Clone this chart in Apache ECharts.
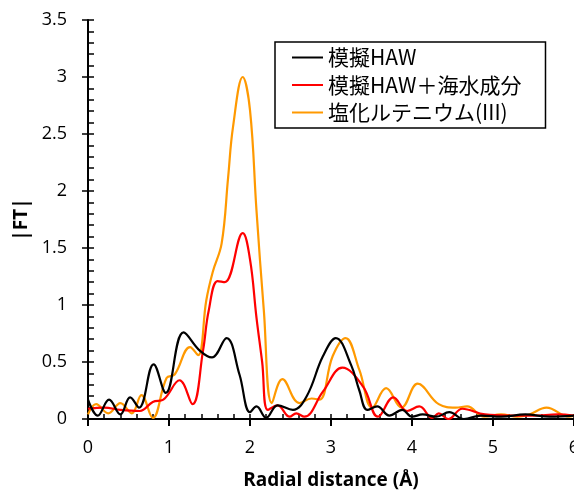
<!DOCTYPE html>
<html>
<head>
<meta charset="utf-8">
<script src="https://cdn.jsdelivr.net/npm/echarts@6/dist/echarts.min.js"></script>
<style>html,body{margin:0;padding:0;background:#fff;}#c{width:574px;height:490px;}</style>
</head>
<body>
<div id="c"></div>
<script>
const seriesNames = ['模擬HAW', '模擬HAW＋海水成分', '塩化ルテニウム(III)'];
const xTicks = [0, 1, 2, 3, 4, 5, 6];
const yTicks = [0, 0.5, 1, 1.5, 2, 2.5, 3, 3.5];

const blackX = [0, 0.12, 0.26, 0.4, 0.52, 0.63, 0.81, 0.96, 1.18, 1.38, 1.53, 1.71, 1.87, 2.0, 2.08, 2.2, 2.34, 2.53, 2.7, 2.9, 3.06, 3.25, 3.35, 3.45, 3.57, 3.72, 3.88, 4.0, 4.13, 4.3, 4.46, 4.64, 4.85, 5.1, 5.4, 5.7, 6.0];
const blackY = [0.17, 0.03, 0.17, 0.04, 0.19, 0.1, 0.48, 0.23, 0.76, 0.6, 0.54, 0.71, 0.39, 0.06, 0.11, 0.01, 0.12, 0.08, 0.2, 0.55, 0.71, 0.47, 0.25, 0.08, 0.11, 0.03, 0.08, 0.02, 0.04, 0.02, 0.06, 0.0, 0.03, 0.02, 0.04, 0.02, 0.03];

const redX = [0, 0.2, 0.4, 0.64, 0.8, 0.93, 1.13, 1.29, 1.42, 1.49, 1.6, 1.69, 1.91, 2.0, 2.08, 2.15, 2.22, 2.34, 2.49, 2.57, 2.67, 2.9, 3.14, 3.4, 3.58, 3.77, 3.94, 4.09, 4.25, 4.33, 4.45, 4.62, 4.9, 5.2, 5.5, 5.8, 6.0];
const redY = [0.09, 0.1, 0.08, 0.07, 0.15, 0.17, 0.34, 0.13, 0.6, 0.95, 1.21, 1.2, 1.63, 1.4, 0.89, 0.5, 0.08, 0.12, 0.02, 0.05, 0.02, 0.24, 0.45, 0.28, 0.02, 0.19, 0.07, 0.11, 0.01, 0.05, 0.0, 0.09, 0.04, 0.03, 0.03, 0.04, 0.03];

const orangeX = [0, 0.1, 0.25, 0.4, 0.54, 0.66, 0.8, 0.97, 1.07, 1.26, 1.36, 1.46, 1.54, 1.65, 1.73, 1.79, 1.91, 2.0, 2.08, 2.17, 2.27, 2.4, 2.61, 2.76, 2.86, 3.02, 3.18, 3.35, 3.51, 3.68, 3.87, 4.07, 4.33, 4.54, 4.68, 4.89, 5.1, 5.3, 5.45, 5.66, 5.94, 6.0];
const orangeY = [0.04, 0.13, 0.05, 0.14, 0.05, 0.21, 0.01, 0.36, 0.39, 0.63, 0.56, 1.04, 1.29, 1.54, 2.12, 2.56, 3.0, 2.71, 1.83, 0.96, 0.14, 0.35, 0.14, 0.18, 0.17, 0.55, 0.71, 0.43, 0.1, 0.27, 0.1, 0.31, 0.13, 0.1, 0.11, 0.02, 0.04, 0.02, 0.04, 0.1, 0.02, 0.03];

const colors = ['#000000', '#FF0000', '#FF9900'];
const pair = (xs, ys) => xs.map((x, i) => [x, ys[i]]);
const seriesData = [pair(blackX, blackY), pair(redX, redY), pair(orangeX, orangeY)];

const chart = echarts.init(document.getElementById('c'), null, {renderer: 'canvas'});
const lab = {fontFamily: 'Open Sans', fontSize: 18, color: '#000'};
chart.setOption({
  animation: false,
  backgroundColor: '#fff',
  grid: {left: 88, right: 0, top: 20, bottom: 71, containLabel: false, outerBoundsMode: 'none'},
  legend: {
    orient: 'vertical', left: 275, top: 42,
    data: seriesNames,
    icon: 'rect', itemWidth: 31, itemHeight: 2, itemGap: 6.5,
    backgroundColor: '#fff',
    borderColor: '#000', borderWidth: 1.5, borderRadius: 0,
    padding: [5, 24, 5, 17],
    textStyle: {fontFamily: 'Noto Sans CJK JP', fontSize: 21, color: '#000', lineHeight: 21, padding: [0, 0, 0, 0]}
  },
  xAxis: [{
    type: 'value', min: xTicks[0], max: xTicks[xTicks.length - 1], interval: 1,
    name: 'Radial distance (Å)', nameLocation: 'middle', nameGap: 52,
    nameTextStyle: {fontFamily: 'Open Sans', fontSize: 19, fontWeight: 'bold', color: '#000'},
    axisLine: {show: true, onZero: false, lineStyle: {color: '#000', width: 2}},
    axisTick: {show: true, inside: false, length: 7, lineStyle: {color: '#000', width: 2}},
    axisLabel: Object.assign({margin: 20}, lab),
    splitLine: {show: false}
  }, {
    type: 'value', min: 0, max: 6, interval: 0.2, position: 'bottom',
    axisLine: {show: false}, axisLabel: {show: false}, splitLine: {show: false},
    axisTick: {show: true, inside: true, length: 5, lineStyle: {color: '#000', width: 1.5}}
  }],
  yAxis: [{
    type: 'value', min: yTicks[0], max: yTicks[yTicks.length - 1], interval: 0.5,
    name: '|FT|', nameLocation: 'middle', nameGap: 57,
    nameTextStyle: {fontFamily: 'Open Sans', fontSize: 19, fontWeight: 'bold', color: '#000'},
    axisLine: {show: true, onZero: false, lineStyle: {color: '#000', width: 2}},
    axisTick: {show: true, inside: false, length: 6, lineStyle: {color: '#000', width: 1.5}},
    axisLabel: Object.assign({margin: 21}, lab),
    splitLine: {show: false}
  }, {
    type: 'value', min: 0, max: 3.5, interval: 0.1, position: 'left',
    axisLine: {show: false}, axisLabel: {show: false}, splitLine: {show: false},
    axisTick: {show: true, inside: true, length: 6, lineStyle: {color: '#000', width: 1.5}}
  }],
  series: seriesNames.map((n, i) => ({
    name: n, type: 'line', xAxisIndex: 0, yAxisIndex: 0,
    data: seriesData[i], smooth: 0.4, showSymbol: false, symbol: 'none',
    lineStyle: {color: colors[i], width: 2.2}, itemStyle: {color: colors[i]},
    clip: true, z: 3 - i
  }))
});
</script>
</body>
</html>
